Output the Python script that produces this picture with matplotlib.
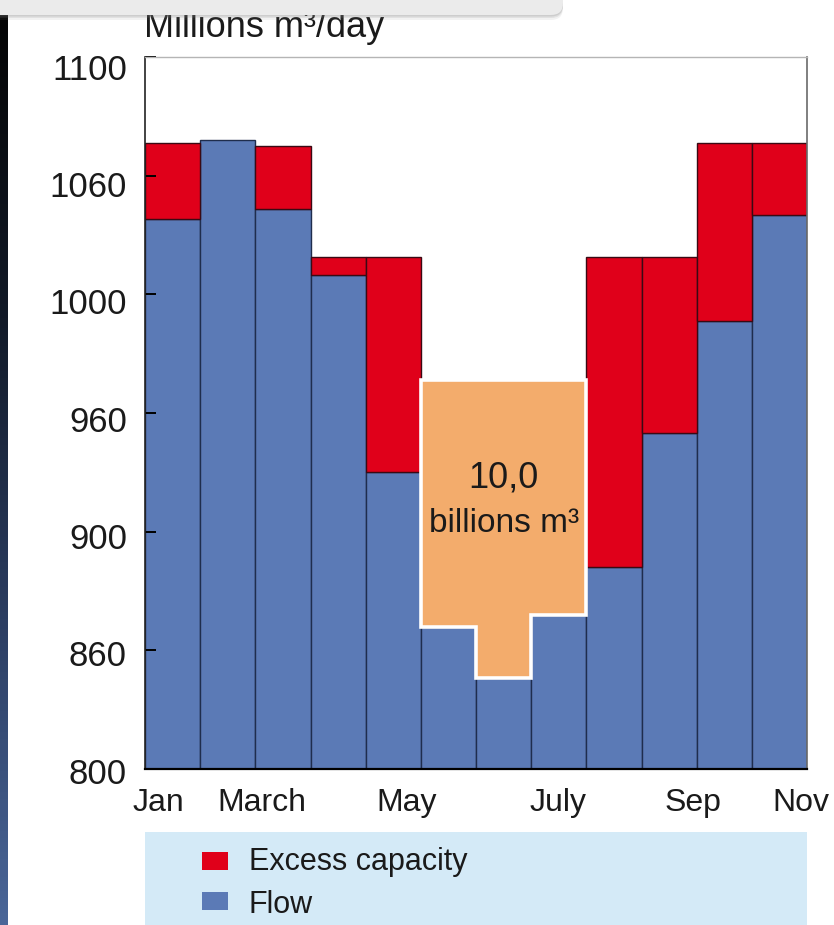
import numpy as np
import matplotlib
matplotlib.use("Agg")
import matplotlib.pyplot as plt
from matplotlib.patches import Polygon, Rectangle, FancyBboxPatch
from matplotlib.colors import LinearSegmentedColormap
from matplotlib.transforms import ScaledTranslation

# ---- data -------------------------------------------------------------
months = ["Jan", "Feb", "Mar", "Apr", "May", "Jun",
          "Jul", "Aug", "Sep", "Oct", "Nov", "Dec"]
flow = [1038, 1072, 1043, 1010, 930, 868, 846, 872, 888, 950, 991, 1040]
capacity = [1071, 1072, 1070, 1019, 1019, 868, 846, 872, 1019, 1019, 1071, 1071]
ytick_values = [800, 860, 900, 960, 1000, 1060, 1100]
xtick_labels = ["Jan", "March", "May", "July", "Sep", "Nov"]
summer_months = ["Jun", "Jul", "Aug"]
summer_box_top = 971
summer_total = "10,0"
summer_unit = "billions m³"

# ---- style ------------------------------------------------------------
FONT = ["Liberation Sans", "DejaVu Sans"]
plt.rcParams["font.family"] = FONT
BLUE = "#5b7ab6"
RED = "#e0001a"
ORANGE = "#f3ac6c"
EDGE = "#1f2d4d"
W, H = 834, 925

fig = plt.figure(figsize=(W / 100, H / 100), dpi=100)
fig.patch.set_facecolor("white")

ax = fig.add_axes([145 / W, 1 - 769 / H, (807 - 145) / W, (769 - 57) / H], zorder=1)

# evenly spaced ticks carrying uneven values: piecewise linear axis
knots = np.arange(len(ytick_values), dtype=float)


def fwd(v):
    return np.interp(v, ytick_values, knots)


def inv(p):
    return np.interp(p, knots, ytick_values)


ax.set_yscale("function", functions=(fwd, inv))

x = np.arange(len(months))
flow_a = np.array(flow, dtype=float)
excess = np.array(capacity, dtype=float) - flow_a

ax.bar(x, flow_a, width=1.0, color=BLUE, edgecolor=EDGE, linewidth=1.0, zorder=1)
has_excess = excess > 0
ax.bar(x[has_excess], excess[has_excess], bottom=flow_a[has_excess], width=1.0,
       color=RED, edgecolor="#3a0a14", linewidth=1.0, zorder=1)

# summer block sitting on the lowest-flow months
idx = [months.index(m) for m in summer_months]
verts = [(idx[0] - 0.5, summer_box_top), (idx[-1] + 0.5, summer_box_top)]
for i in reversed(idx):
    verts += [(i + 0.5, flow_a[i]), (i - 0.5, flow_a[i])]
ax.add_patch(Polygon(verts, closed=True, facecolor=ORANGE, edgecolor="white",
                     linewidth=2.6, zorder=3, joinstyle="miter"))
cx = float(np.mean(idx))
ax.text(cx, 927, summer_total, ha="center", va="center", fontsize=26,
        color="#1a1a1a", zorder=4)
ax.text(cx, 904, summer_unit, ha="center", va="center", fontsize=24,
        color="#1a1a1a", zorder=4)

ax.set_xlim(-0.5, len(months) - 0.5)
ax.set_ylim(800, 1100)
ax.set_yticks(ytick_values)
ax.set_yticklabels([str(v) for v in ytick_values])
ax.tick_params(axis="y", direction="in", length=8, width=1.4, color="black",
               pad=13, labelsize=25, labelcolor="#1a1a1a")
ax.yaxis.set_minor_locator(matplotlib.ticker.NullLocator())
# labels sit a little below their ticks, more so towards the top
for k, lab in enumerate(ax.get_yticklabels()):
    lab.set_transform(lab.get_transform() +
                      ScaledTranslation(0, -(1.5 + 1.4 * k) / 100, fig.dpi_scale_trans))

ax.set_xticks([-0.25, 1.62, 4.25, 6.99, 9.44, 11.38])
ax.set_xticklabels(xtick_labels)
ax.tick_params(axis="x", length=0, pad=14, labelsize=23, labelcolor="#1a1a1a")

for side, col, lw in [("left", "#222222", 1.2), ("bottom", "black", 1.6),
                      ("top", "#b5b5b5", 1.0), ("right", "#6a6a6a", 1.2)]:
    ax.spines[side].set_color(col)
    ax.spines[side].set_linewidth(lw)

# ---- page decoration, legend and title in pixel space --------------------
cv = fig.add_axes([0, 0, 1, 1], zorder=5)
cv.set_facecolor("none")
cv.axis("off")

strip_cmap = LinearSegmentedColormap.from_list(
    "strip", ["#050505", "#121a28", "#2c3e62", "#4a6698"])
grad = np.linspace(0, 1, 256).reshape(-1, 1)
cv.imshow(grad, extent=(0, 8, 925, 15), aspect="auto", cmap=strip_cmap,
          interpolation="bilinear", zorder=1)

cv.text(144, 37, "Millions m³/day", ha="left", va="baseline", fontsize=26,
        color="#1a1a1a", zorder=2)

for off, a in [(5, 0.10), (3, 0.15), (1.5, 0.2)]:
    cv.add_patch(FancyBboxPatch((-20, -20), 583, 35 + off,
                                boxstyle="round,pad=0,rounding_size=12",
                                facecolor="#808080", edgecolor="none", alpha=a, zorder=3))
cv.add_patch(FancyBboxPatch((-20, -20), 583, 35,
                            boxstyle="round,pad=0,rounding_size=12",
                            facecolor="#ebebeb", edgecolor="none", zorder=4))

cv.add_patch(Rectangle((145, 832), 662, 93, facecolor="#d4eaf7", edgecolor="none", zorder=2))
legend_entries = [("Excess capacity", RED, 852, 870), ("Flow", BLUE, 892, 913)]
for label, col, sq_top, base in legend_entries:
    cv.add_patch(Rectangle((202, sq_top), 26, 17.5, facecolor=col, edgecolor="none", zorder=3))
    cv.text(249, base, label, ha="left", va="baseline", fontsize=22,
            color="#1a1a1a", zorder=3)

cv.set_xlim(0, W)
cv.set_ylim(H, 0)

fig.savefig("out.png", dpi=100)
